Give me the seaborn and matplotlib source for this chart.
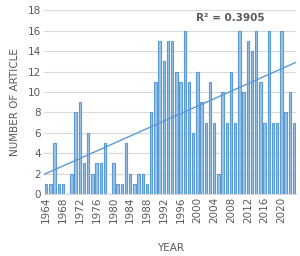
import numpy as np
import pandas as pd
import matplotlib
matplotlib.use("Agg")
import matplotlib.pyplot as plt
import seaborn as sns

# data
years = list(range(1964, 2024))
articles = [1, 1, 5, 1, 1, 0, 2, 8, 9, 3,
            6, 2, 3, 3, 5, 0, 3, 1, 1, 5,
            2, 1, 2, 2, 1, 8, 11, 15, 13, 15,
            15, 12, 11, 16, 11, 6, 12, 9, 7, 11,
            7, 2, 10, 7, 12, 7, 16, 10, 15, 14,
            16, 11, 7, 16, 7, 7, 16, 8, 10, 7]
tick_years = list(range(1964, 2021, 4))
r2_label = "R² = 0.3905"

df = pd.DataFrame({"YEAR": years, "ARTICLES": articles})

sns.set_style("white")
plt.rcParams["font.family"] = ["DejaVu Sans"]
grey = "#595959"

fig = plt.figure(figsize=(3.0, 2.56), dpi=100)
ax = fig.add_axes([0.147, 0.242, 0.84, 0.718])

sns.barplot(data=df, x="YEAR", y="ARTICLES", ax=ax, color="#9dc3e6",
            edgecolor="#5b9bd5", linewidth=0.8, width=0.6, saturation=1)

# linear trendline over bar positions
pos = np.arange(len(years))
slope, icept = np.polyfit(pos, np.array(articles, dtype=float), 1)
xs = np.array([-0.5, len(years) - 0.5])
ax.plot(xs, icept + slope * xs, color="#5b9bd5", linewidth=1)

ax.set_ylim(0, 18)
ax.set_yticks(range(0, 19, 2))
ax.set_xlim(-0.5, len(years) - 0.5)
idx = [years.index(y) for y in tick_years]
ax.set_xticks(idx)
ax.set_xticklabels([str(y) for y in tick_years], rotation=90)
ax.tick_params(axis="both", length=0, labelsize=7.5, colors=grey, pad=2)
ax.yaxis.grid(True, color="#d9d9d9", linewidth=0.8)
ax.set_axisbelow(True)
for s in ["top", "right", "left"]:
    ax.spines[s].set_visible(False)
ax.spines["bottom"].set_color("#d9d9d9")

ax.set_xlabel("YEAR", fontsize=7.5, color=grey, labelpad=14)
ax.set_ylabel("NUMBER OF ARTICLE", fontsize=7.5, color=grey, labelpad=6)
ax.text(0.74, 0.985, r2_label, transform=ax.transAxes, ha="center", va="top",
        fontsize=7.5, color=grey, fontweight="bold")

fig.savefig("out.png", dpi=100)
